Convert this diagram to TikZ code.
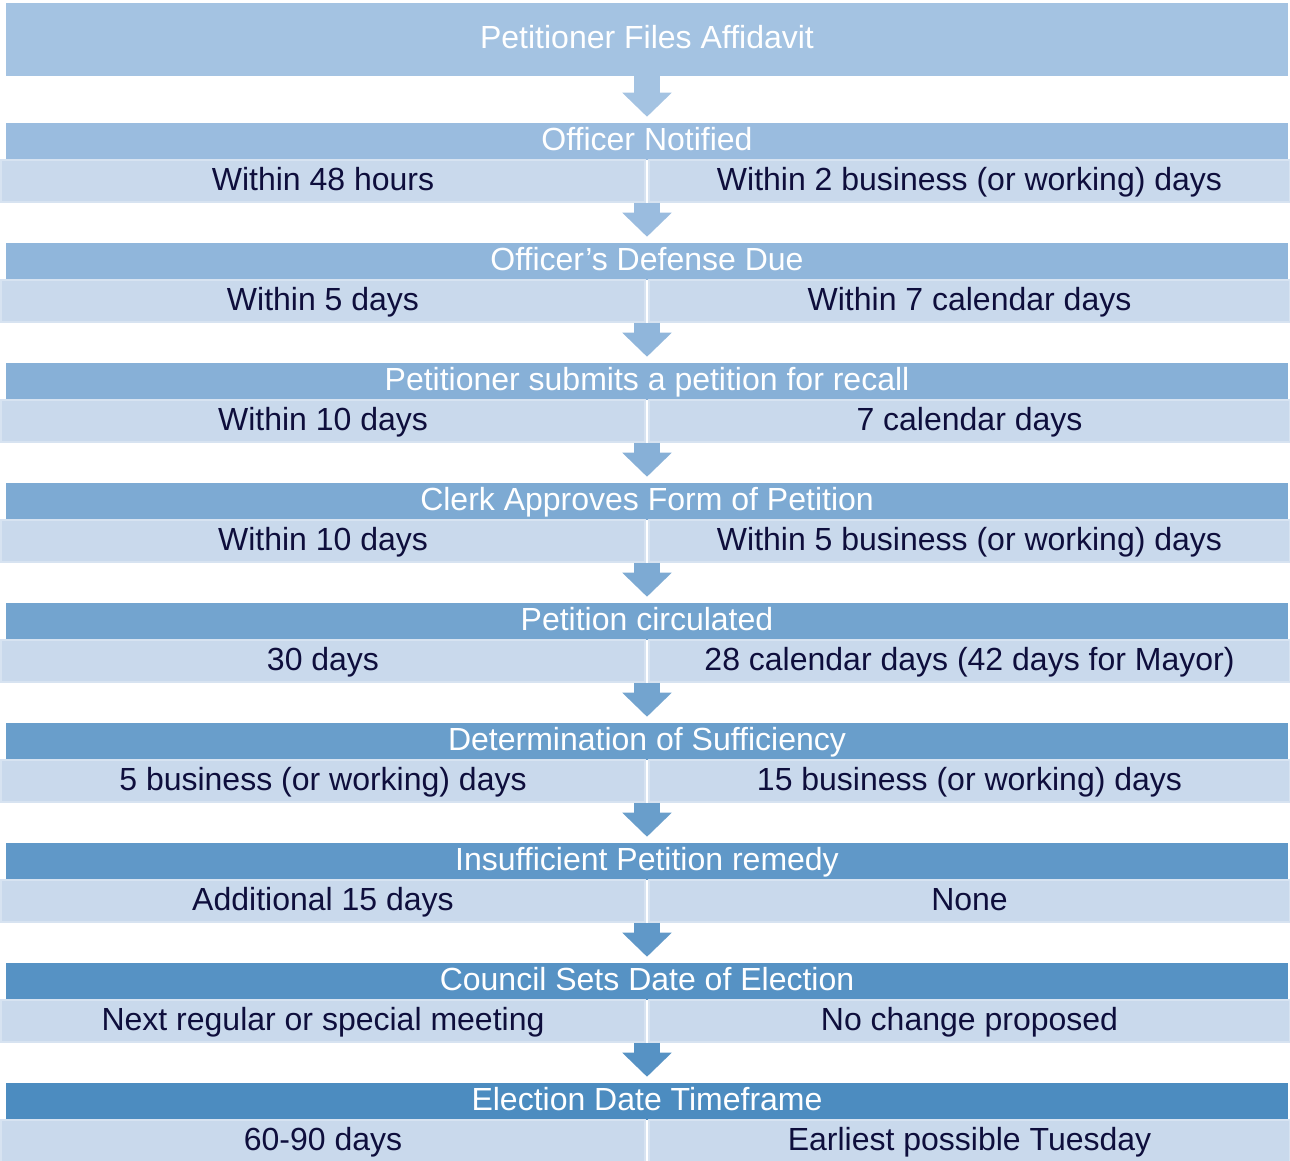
\documentclass[tikz,border=0pt]{standalone}
\usepackage{fontspec}
\setmainfont{Liberation Sans}
\usetikzlibrary{arrows.meta}
\definecolor{topc}{HTML}{A4C3E2}
\definecolor{hdA}{HTML}{9ABCDF}
\definecolor{hdB}{HTML}{90B6DB}
\definecolor{hdC}{HTML}{87B0D7}
\definecolor{hdD}{HTML}{7DAAD3}
\definecolor{hdE}{HTML}{73A4CF}
\definecolor{hdF}{HTML}{699ECB}
\definecolor{hdG}{HTML}{6098C8}
\definecolor{hdH}{HTML}{5692C4}
\definecolor{hdI}{HTML}{4C8CC0}
\definecolor{rowfill}{HTML}{C9D9EC}
\definecolor{rowedge}{HTML}{D7E3F1}
\definecolor{navy}{HTML}{0E0E3C}
\tikzset{
  head/.style={fill=#1, minimum width=961.5pt, minimum height=27.75pt,
               inner sep=0pt, text=white, text height=17.2pt, text depth=3.7pt},
  cell/.style={fill=rowfill, draw=rowedge, line width=1.2pt, text=navy,
               minimum width=483pt, minimum height=31.5pt, inner sep=0pt,
               text height=17.2pt, text depth=3.7pt},
  flow/.style={draw=#1, line width=19.5pt, shorten >=4.5pt,
               -{Triangle[length=18pt,width=36pt]}},
}
\begin{document}
\begin{tikzpicture}[x=0.75pt,y=-0.75pt,font=\fontsize{24}{28}\selectfont]
\useasboundingbox (0,0) rectangle (1290,1161); % page size
\node [head=topc, minimum height=54.75pt] (files) at (647,39.5) {Petitioner Files Affidavit};

\node [head=hdA] (notified) at (647,141.5) {Officer Notified};
\node [cell] (notifiedL) at (323,181) {Within 48 hours};
\node [cell, minimum width=480.75pt] (notifiedR) at (969.5,181) {Within 2 business (or working) days};
\draw [flow=topc] (files) -- (notified);

\node [head=hdB] (defense) at (647,261.5) {Officer’s Defense Due};
\node [cell] (defenseL) at (323,301) {Within 5 days};
\node [cell, minimum width=480.75pt] (defenseR) at (969.5,301) {Within 7 calendar days};
\draw [flow=hdA] (notified |- notifiedL.south) -- (defense);

\node [head=hdC] (submits) at (647,381.5) {Petitioner submits a petition for recall};
\node [cell] (submitsL) at (323,421) {Within 10 days};
\node [cell, minimum width=480.75pt] (submitsR) at (969.5,421) {7 calendar days};
\draw [flow=hdB] (defense |- defenseL.south) -- (submits);

\node [head=hdD] (form) at (647,501.5) {Clerk Approves Form of Petition};
\node [cell] (formL) at (323,541) {Within 10 days};
\node [cell, minimum width=480.75pt] (formR) at (969.5,541) {Within 5 business (or working) days};
\draw [flow=hdC] (submits |- submitsL.south) -- (form);

\node [head=hdE] (circulated) at (647,621.5) {Petition circulated};
\node [cell] (circulatedL) at (323,661) {30 days};
\node [cell, minimum width=480.75pt] (circulatedR) at (969.5,661) {28 calendar days (42 days for Mayor)};
\draw [flow=hdD] (form |- formL.south) -- (circulated);

\node [head=hdF] (sufficiency) at (647,741.5) {Determination of Sufficiency};
\node [cell] (sufficiencyL) at (323,781) {5 business (or working) days};
\node [cell, minimum width=480.75pt] (sufficiencyR) at (969.5,781) {15 business (or working) days};
\draw [flow=hdE] (circulated |- circulatedL.south) -- (sufficiency);

\node [head=hdG] (remedy) at (647,861.5) {Insufficient Petition remedy};
\node [cell] (remedyL) at (323,901) {Additional 15 days};
\node [cell, minimum width=480.75pt] (remedyR) at (969.5,901) {None};
\draw [flow=hdF] (sufficiency |- sufficiencyL.south) -- (remedy);

\node [head=hdH] (council) at (647,981.5) {Council Sets Date of Election};
\node [cell] (councilL) at (323,1021) {Next regular or special meeting};
\node [cell, minimum width=480.75pt] (councilR) at (969.5,1021) {No change proposed};
\draw [flow=hdG] (remedy |- remedyL.south) -- (council);

\node [head=hdI] (timeframe) at (647,1101.5) {Election Date Timeframe};
\node [cell] (timeframeL) at (323,1141) {60-90 days};
\node [cell, minimum width=480.75pt] (timeframeR) at (969.5,1141) {Earliest possible Tuesday};
\draw [flow=hdH] (council |- councilL.south) -- (timeframe);
\end{tikzpicture}
\end{document}
